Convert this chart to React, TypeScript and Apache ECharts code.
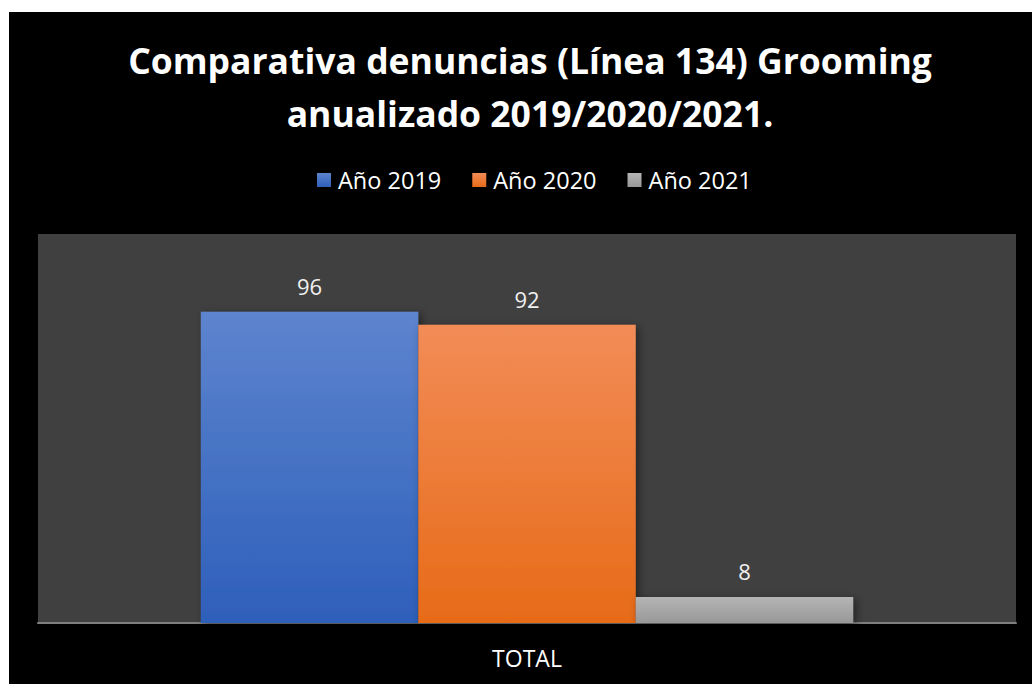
import React, { useEffect, useRef } from "react";
import * as echarts from "echarts";

const categories = ["TOTAL"];
const seriesNames = ["Año 2019", "Año 2020", "Año 2021"];
const values2019 = [96];
const values2020 = [92];
const values2021 = [8];
const titleText = "Comparativa denuncias (Línea 134) Grooming\nanualizado 2019/2020/2021.";

const grad = (top: string, bottom: string) =>
  new echarts.graphic.LinearGradient(0, 0, 0, 1, [
    { offset: 0, color: top },
    { offset: 1, color: bottom },
  ]);

export default function App() {
  const ref = useRef<HTMLDivElement>(null);
  useEffect(() => {
    if (!ref.current) return;
    const chart = echarts.init(ref.current, undefined, { renderer: "svg" });
    const colors = [
      grad("#5d84ce", "#2e5fba"),
      grad("#f28c57", "#e76b18"),
      grad("#b5b5b5", "#989898"),
    ];
    const datas = [values2019, values2020, values2021];
    chart.setOption({
      animation: false,
      backgroundColor: "transparent",
      graphic: [
        {
          type: "rect",
          z: -10,
          shape: { x: 9, y: 12, width: 1023, height: 672 },
          style: { fill: "#000000" },
        },
      ],
      title: {
        text: titleText,
        left: 525,
        textAlign: "center",
        top: 28,
        textStyle: {
          color: "#ffffff",
          fontFamily: "Open Sans",
          fontWeight: "bold",
          fontSize: 35.5,
          lineHeight: 53,
        },
      },
      legend: {
        data: seriesNames,
        top: 163,
        left: 312,
        icon: "rect",
        itemWidth: 14,
        itemHeight: 14,
        itemGap: 31,
        textStyle: {
          color: "#ffffff",
          fontFamily: "Open Sans",
          fontSize: 23.5,
          padding: [0, 0, 0, 2],
        },
      },
      grid: {
        left: 38,
        right: 16,
        top: 234,
        bottom: 61,
        show: true,
        backgroundColor: "#404040",
        borderWidth: 0,
      },
      xAxis: {
        type: "category",
        data: categories,
        axisLine: { show: true, lineStyle: { color: "#7f7f7f", width: 2 } },
        axisTick: { show: false },
        axisLabel: {
          color: "#ffffff",
          fontFamily: "Open Sans",
          fontSize: 23,
          margin: 23,
        },
      },
      yAxis: {
        type: "value",
        min: 0,
        max: 120,
        show: false,
        splitLine: { show: false },
      },
      series: seriesNames.map((name, i) => ({
        name,
        type: "bar",
        data: datas[i],
        barGap: "0%",
        barCategoryGap: "33.3%",
        itemStyle: {
          color: colors[i],
          shadowBlur: 8,
          shadowColor: "rgba(0,0,0,0.45)",
          shadowOffsetX: 3,
          shadowOffsetY: 2,
        },
        label: {
          show: true,
          position: "top",
          distance: 15,
          color: "#f0f0f0",
          fontFamily: "Open Sans",
          fontSize: 22,
        },
      })),
    });
    return () => chart.dispose();
  }, []);
  return (
    <div
      style={{
        position: "absolute",
        left: 0,
        top: 0,
        width: 1032,
        height: 684,
        background: "#ffffff",
      }}
    >
      <div ref={ref} style={{ width: 1032, height: 684 }} />
    </div>
  );
}
